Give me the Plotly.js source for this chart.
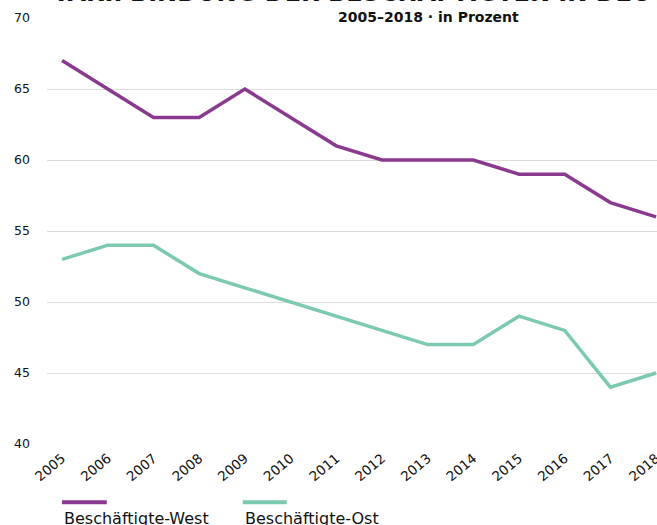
<!DOCTYPE html>
<html>
<head>
<meta charset="utf-8">
<script src="https://cdn.plot.ly/plotly-3.0.1.min.js"></script>
<style>html,body{margin:0;padding:0;background:#fff;}#chart{width:657px;height:525px;}</style>
</head>
<body>
<div id="chart"></div>
<script>
const years = [2005,2006,2007,2008,2009,2010,2011,2012,2013,2014,2015,2016,2017,2018];
const west = [67,65,63,63,65,63,61,60,60,60,59,59,57,56];
const ost = [53,54,54,52,51,50,49,48,47,47,49,48,44,45];
const seriesNames = ["Beschäftigte-West","Beschäftigte-Ost"];
const seriesColors = ["#8a3a8e","#7ccaae"];
const titleText = "TARIFBINDUNG DER BESCHÄFTIGTEN IN DEUTSCHLAND";
const subtitleText = "2005–2018 · in Prozent";
const yTicks = [40,45,50,55,60,65,70];

const FONT = "'DejaVu Sans', sans-serif";

const traces = [
  {x: years, y: west, name: seriesNames[0], mode: "lines", line: {color: seriesColors[0], width: 3.5}},
  {x: years, y: ost, name: seriesNames[1], mode: "lines", line: {color: seriesColors[1], width: 3.5}}
];

const layout = {
  width: 657, height: 525,
  margin: {l: 47, r: 0, t: 18, b: 81, pad: 0},
  paper_bgcolor: "#fff", plot_bgcolor: "#fff",
  showlegend: false,
  font: {family: FONT, color: "#111", size: 13},
  xaxis: {
    range: [2004.67, 2018.02], tickvals: years, ticktext: years.map(String),
    tickangle: -40, showgrid: false, zeroline: false, showline: false, ticks: "",
    ticklabeloverflow: "allow", ticklabelstandoff: 3,
    tickfont: {family: FONT, size: 13.5, color: "#111"}, fixedrange: true
  },
  yaxis: {
    range: [40, 70], tickvals: yTicks, showgrid: true, gridcolor: "#dcdcdc", gridwidth: 1,
    zeroline: false, showline: false, ticks: "", ticklabelstandoff: 16,
    tickfont: {family: FONT, size: 12.5, color: "#111"}, fixedrange: true
  },
  annotations: [
    {text: "<b>" + titleText + "</b>", xref: "paper", yref: "paper", x: 0.62, y: 1, xanchor: "center", yanchor: "bottom",
     yshift: 9, showarrow: false, font: {family: FONT, size: 24, color: "#111"}},
    {text: "<b>" + subtitleText + "</b>", xref: "paper", yref: "paper", x: 0.625, y: 1, xanchor: "center", yanchor: "middle",
     yshift: 1, showarrow: false, font: {family: FONT, size: 14, color: "#111"}},
    {text: seriesNames[0], xref: "paper", yref: "paper", x: 0.0246, y: 0, xanchor: "left", yanchor: "middle",
     yshift: -74, showarrow: false, font: {family: FONT, size: 16, color: "#111"}},
    {text: seriesNames[1], xref: "paper", yref: "paper", x: 0.321, y: 0, xanchor: "left", yanchor: "middle",
     yshift: -74, showarrow: false, font: {family: FONT, size: 16, color: "#111"}}
  ],
  shapes: [
    {type: "line", xref: "paper", yref: "paper", x0: 0.0246, x1: 0.098, y0: -0.1365, y1: -0.1365,
     line: {color: seriesColors[0], width: 4}},
    {type: "line", xref: "paper", yref: "paper", x0: 0.321, x1: 0.393, y0: -0.1365, y1: -0.1365,
     line: {color: seriesColors[1], width: 4}}
  ]
};

Plotly.newPlot("chart", traces, layout, {displayModeBar: false, staticPlot: true});
</script>
</body>
</html>
